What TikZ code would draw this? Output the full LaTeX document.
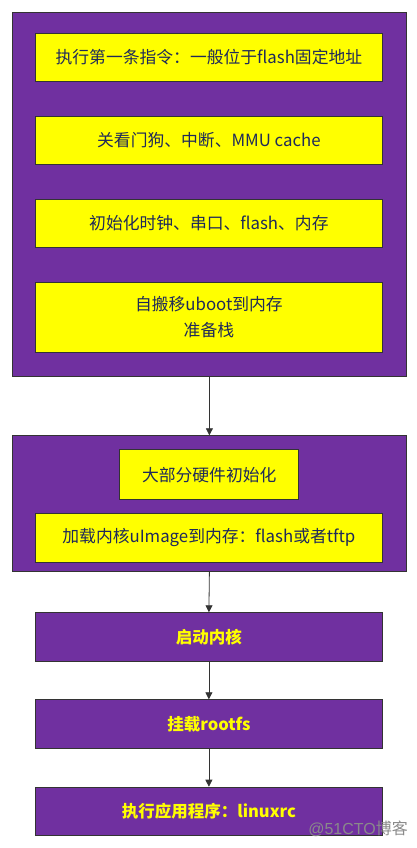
\documentclass[tikz,border=0pt]{standalone}
\usepackage{fontspec}
\setmainfont{Noto Sans CJK SC}
\newfontfamily\wmfont{Liberation Sans}
\newfontfamily\cjkwm{Noto Sans CJK SC}
\usetikzlibrary{arrows.meta}
\definecolor{pur}{HTML}{7030A0}
\definecolor{yel}{HTML}{FFFF00}
\definecolor{edge}{HTML}{333333}
\definecolor{ink}{HTML}{1F2A5A}
\definecolor{wm}{HTML}{8A8A8A}
\tikzset{
  x=1pt,y=-1pt,
  outer/.style={draw=edge,line width=0.8pt,fill=pur},
  ybox/.style={draw=edge,line width=0.8pt,fill=yel,text=ink,font=\fontsize{16.8}{26}\selectfont,align=center,inner sep=0pt},
  pbox/.style={draw=edge,line width=0.8pt,fill=pur,text=yel,font=\fontsize{16.5}{20}\selectfont\bfseries,inner sep=0pt},
  arr/.style={draw=edge,line width=0.8pt,-{Triangle[length=7pt,width=7pt]}}
}
\begin{document}
\begin{tikzpicture}
\useasboundingbox (0,0) rectangle (417,848);
% group 1
\node[outer,minimum width=394pt,minimum height=363.5pt,anchor=north west] (g1) at (12,12) {};
\node[ybox,minimum width=347pt,minimum height=48.5pt,anchor=north west] (a1) at (35,32.7) {执行第一条指令：一般位于flash固定地址};
\node[ybox,minimum width=347pt,minimum height=48.5pt,anchor=north west] (a2) at (35,115.7) {关看门狗、中断、MMU cache};
\node[ybox,minimum width=347pt,minimum height=48.5pt,anchor=north west] (a3) at (35,198.5) {初始化时钟、串口、flash、内存};
\node[ybox,minimum width=347pt,minimum height=70.5pt,anchor=north west] (a4) at (35,281.7) {自搬移uboot到内存\\准备栈};
% group 2
\node[outer,minimum width=394pt,minimum height=136pt,anchor=north west] (g2) at (12,435.3) {};
\node[ybox,minimum width=179pt,minimum height=50pt,anchor=north west] (b1) at (119.3,449.3) {大部分硬件初始化};
\node[ybox,minimum width=347pt,minimum height=48.5pt,anchor=north west] (b2) at (35,513.3) {加载内核uImage到内存：flash或者tftp};
% steps
\node[pbox,minimum width=347pt,minimum height=48.7pt,anchor=north west] (c1) at (35,612.3) {启动内核};
\node[pbox,minimum width=347pt,minimum height=49pt,anchor=north west] (c2) at (35,699.3) {挂载rootfs};
\node[pbox,minimum width=347pt,minimum height=48.6pt,anchor=north west] (c3) at (35,786.7) {执行应用程序：linuxrc};
% arrows
\draw[arr] (g1.south) -- (g2.north);
\draw[arr] (g2.south) -- (c1.north);
\draw[arr] (c1.south) -- (c2.north);
\draw[arr] (c2.south) -- (c3.north);
% watermark
\node[text=wm,font=\fontsize{16}{18}\selectfont,anchor=east,inner sep=0pt] (wmk) at (408,829) {\wmfont @51CTO\cjkwm 博客};
\end{tikzpicture}
\end{document}
